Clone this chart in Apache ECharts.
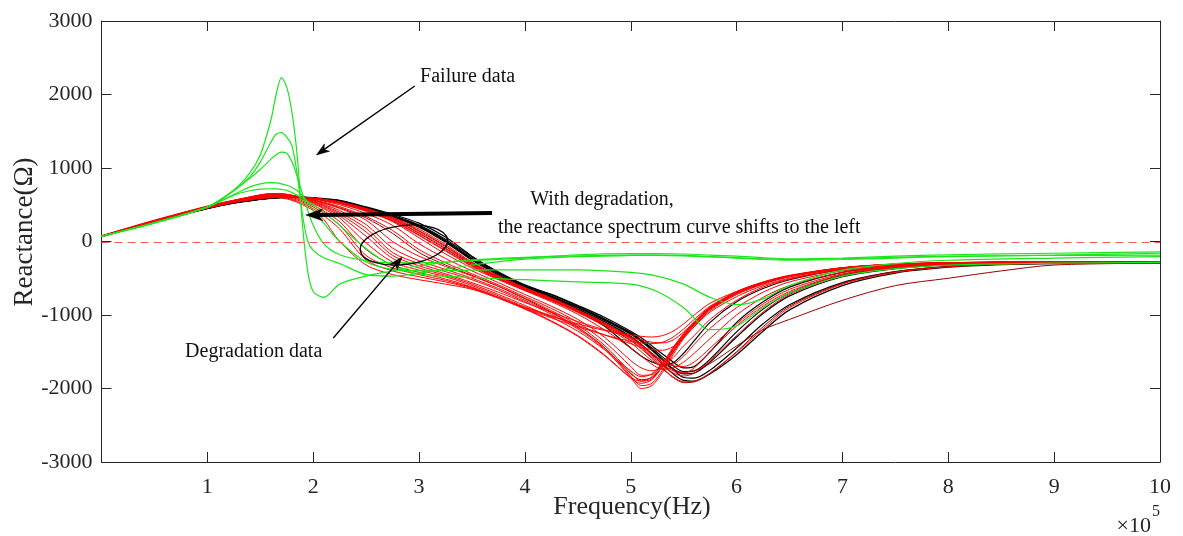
<!DOCTYPE html>
<html>
<head>
<meta charset="utf-8">
<script src="https://cdn.jsdelivr.net/npm/echarts@6/dist/echarts.min.js"></script>
<style>
html,body{margin:0;padding:0;background:#fff;}
#c{width:1183px;height:536px;}
</style>
</head>
<body>
<div id="c"></div>
<script>
// ---------- data (x in units of 1e5 Hz, y in ohm) ----------
const FREQ = [0,0.5,1,1.25,1.5,1.6,1.7,1.8,1.9,2,2.1,2.25,2.5,2.75,3,3.25,3.5,3.75,4,4.25,4.5,4.75,5,5.1,5.2,5.3,5.4,5.5,5.6,5.75,6,6.25,6.5,7,7.5,8,8.5,9,10];
const FREQ_G = [0,0.5,1,1.25,1.4,1.5,1.6,1.65,1.7,1.75,1.8,1.85,1.9,1.95,2,2.1,2.25,2.5,2.75,3,3.5,4,4.5,5,5.25,5.5,5.75,6,6.25,6.5,7,7.5,8,9,10];

// healthy (black)
const B1 = [70,275,455,530,580,595,603,607,605,598,585,560,470,370,250,60,-200,-420,-600,-720,-870,-1030,-1220,-1310,-1420,-1530,-1640,-1720,-1700,-1500,-1100,-820,-620,-420,-340,-300,-285,-280,-275];
const B2 = [65,268,448,522,572,588,597,600,597,588,572,545,455,345,205,5,-240,-440,-610,-750,-900,-1070,-1260,-1360,-1480,-1610,-1730,-1800,-1790,-1640,-1300,-980,-740,-480,-370,-320,-300,-290,-285];
const B3 = [72,272,452,527,577,592,600,603,600,590,575,548,458,348,212,10,-232,-432,-602,-742,-895,-1060,-1250,-1350,-1470,-1600,-1740,-1850,-1860,-1750,-1450,-1120,-860,-560,-410,-340,-310,-295,-285];
const B4 = [70,270,450,526,576,591,599,602,599,589,573,546,456,346,210,8,-235,-435,-605,-750,-930,-1150,-1450,-1560,-1640,-1680,-1650,-1520,-1350,-1100,-820,-640,-520,-380,-320,-290,-280,-275,-272];
const B5 = [68,270,450,525,575,590,598,601,598,588,570,540,448,338,195,-10,-255,-455,-625,-765,-920,-1090,-1290,-1400,-1530,-1670,-1800,-1890,-1900,-1800,-1540,-1220,-930,-600,-430,-350,-315,-300,-290];
const B6 = [70,273,453,528,578,593,601,604,601,592,578,552,462,355,225,30,-210,-415,-590,-725,-880,-1050,-1240,-1340,-1450,-1570,-1690,-1770,-1760,-1600,-1230,-920,-700,-460,-360,-315,-295,-288,-282];

// degradation (red)
const R1 = [70,272,458,535,590,602,608,608,602,590,572,540,450,330,170,-40,-280,-470,-630,-770,-930,-1110,-1320,-1430,-1560,-1690,-1790,-1830,-1790,-1620,-1280,-960,-720,-470,-360,-310,-292,-285,-280];
const R2 = [72,276,462,540,598,612,616,612,600,582,558,515,410,270,50,-170,-360,-520,-670,-820,-990,-1200,-1450,-1560,-1670,-1740,-1720,-1640,-1520,-1320,-1000,-760,-600,-420,-335,-300,-287,-281,-278];
const R3 = [74,280,468,548,608,622,625,618,602,580,550,500,380,220,-30,-230,-400,-560,-720,-880,-1060,-1300,-1620,-1720,-1760,-1700,-1580,-1420,-1280,-1060,-800,-620,-510,-380,-320,-292,-283,-279,-276];
const R4 = [76,284,474,555,618,632,633,622,600,572,535,475,340,150,-110,-290,-440,-590,-750,-910,-1100,-1360,-1700,-1820,-1810,-1660,-1440,-1250,-1090,-890,-680,-550,-460,-355,-305,-288,-280,-276,-274];
const R5 = [78,290,482,562,628,642,640,625,598,565,520,450,290,0,-200,-340,-470,-610,-770,-940,-1140,-1410,-1780,-1900,-1870,-1700,-1470,-1270,-1110,-900,-690,-555,-465,-358,-308,-290,-282,-278,-276];
const R6 = [75,286,478,560,632,648,646,628,596,555,505,420,230,-90,-260,-380,-500,-640,-800,-970,-1170,-1440,-1830,-1960,-1930,-1750,-1510,-1300,-1130,-920,-700,-560,-470,-360,-310,-292,-284,-280,-278];
const R7 = [73,282,475,558,635,652,650,630,592,545,490,395,180,-150,-300,-410,-520,-660,-820,-990,-1190,-1460,-1850,-2000,-1960,-1780,-1540,-1320,-1150,-940,-720,-575,-480,-365,-312,-293,-285,-281,-279];
const R8 = [72,280,472,555,630,648,648,628,588,538,478,375,130,-190,-330,-440,-560,-690,-830,-960,-1090,-1200,-1300,-1340,-1370,-1380,-1340,-1230,-1100,-920,-720,-580,-480,-365,-312,-292,-284,-280,-278];
const R9 = [70,276,468,552,628,646,645,622,580,528,462,350,70,-230,-360,-460,-580,-720,-870,-1030,-1220,-1470,-1760,-1840,-1800,-1650,-1450,-1260,-1100,-900,-700,-560,-470,-360,-310,-292,-284,-280,-278];
const R10 = [68,272,464,548,622,640,638,614,570,515,445,320,-20,-280,-390,-480,-600,-740,-890,-1010,-1140,-1270,-1390,-1440,-1470,-1480,-1430,-1310,-1160,-960,-750,-600,-500,-375,-318,-296,-286,-281,-279];
const R11 = [70,274,462,545,615,632,628,600,552,492,415,270,-110,-320,-420,-510,-620,-760,-910,-1080,-1280,-1540,-1860,-1930,-1880,-1700,-1490,-1290,-1120,-910,-700,-560,-470,-360,-310,-292,-284,-280,-278];
const R12 = [66,268,458,540,608,622,615,585,535,470,385,225,-190,-360,-450,-530,-630,-760,-900,-1020,-1120,-1210,-1270,-1290,-1300,-1280,-1220,-1120,-1000,-840,-680,-560,-470,-362,-312,-293,-284,-280,-278];
const R13 = [68,270,460,542,605,615,605,572,518,445,350,170,-250,-400,-480,-550,-640,-770,-920,-1090,-1290,-1550,-1850,-1900,-1840,-1670,-1470,-1280,-1120,-910,-700,-560,-470,-360,-310,-292,-284,-280,-278];
const R14 = [65,265,455,538,598,605,595,560,500,420,300,0,-320,-450,-520,-580,-650,-770,-910,-1040,-1160,-1270,-1360,-1380,-1390,-1370,-1300,-1190,-1060,-880,-700,-570,-475,-365,-315,-294,-285,-281,-279];
const R15 = [71,274,460,538,594,607,612,610,602,588,568,532,435,305,120,-90,-310,-490,-650,-790,-950,-1130,-1340,-1450,-1580,-1720,-1840,-1910,-1900,-1790,-1510,-1190,-900,-580,-420,-345,-310,-294,-286];
const R16 = [73,278,465,543,600,614,618,614,603,586,562,522,420,285,90,-120,-330,-500,-655,-795,-950,-1120,-1310,-1410,-1520,-1620,-1690,-1700,-1640,-1450,-1120,-850,-650,-440,-345,-305,-288,-282,-278];
const R17 = [71,273,459,536,592,604,610,609,603,590,571,538,445,320,150,-60,-290,-475,-635,-775,-935,-1115,-1320,-1420,-1540,-1660,-1760,-1790,-1720,-1500,-1150,-880,-680,-450,-350,-305,-290,-283,-279];
const R18 = [72,276,463,541,598,611,615,611,601,585,562,524,420,280,80,-130,-340,-510,-660,-805,-965,-1150,-1380,-1500,-1620,-1690,-1670,-1560,-1400,-1180,-900,-690,-550,-400,-330,-298,-286,-281,-278];

// degradation (dark red)
const DR1 = [70,275,465,548,615,630,632,620,595,565,525,460,320,110,-150,-320,-460,-610,-780,-960,-1170,-1440,-1800,-1880,-1850,-1700,-1500,-1300,-1130,-920,-700,-560,-468,-358,-308,-290,-282,-278,-276];
const DR2 = [70,272,455,532,585,598,604,604,598,586,566,530,432,300,110,-100,-320,-500,-660,-800,-960,-1140,-1350,-1460,-1590,-1730,-1850,-1920,-1910,-1790,-1500,-1160,-880,-570,-410,-340,-308,-294,-286];
const DR3 = [70,270,452,528,578,592,600,602,598,588,570,538,445,320,140,-70,-300,-480,-640,-780,-940,-1110,-1300,-1400,-1520,-1640,-1740,-1780,-1760,-1660,-1420,-1200,-1060,-800,-600,-500,-400,-320,-295];

// failure (green)
const G1 = [70,250,470,700,930,1180,1650,2000,2230,2100,1750,1150,200,-420,-680,-760,-580,-470,-400,-330,-250,-215,-195,-185,-185,-190,-205,-220,-235,-245,-235,-215,-200,-190,-185];
const G2 = [70,255,470,690,880,1080,1350,1460,1480,1420,1300,900,350,0,-120,-220,-300,-450,-470,-430,-320,-240,-205,-190,-188,-195,-210,-225,-245,-255,-245,-225,-205,-185,-160];
const G3 = [70,255,470,690,860,980,1120,1180,1215,1200,1080,880,640,420,220,-30,-180,-260,-290,-290,-260,-225,-180,-165,-165,-170,-185,-200,-220,-235,-225,-200,-180,-160,-140];
const G4 = [70,258,472,640,740,785,800,797,785,765,735,690,620,530,420,250,0,-280,-380,-400,-390,-385,-385,-420,-470,-580,-760,-860,-780,-600,-390,-300,-255,-225,-205];
const G5 = [70,255,465,630,690,712,718,715,708,695,665,630,590,545,500,400,220,-100,-330,-440,-490,-520,-550,-580,-680,-900,-1200,-1150,-900,-700,-470,-370,-320,-295,-285];

const BLACK_SET = [B1,B2,B3,B4,B5,B6];
const RED_SET = [R1,R2,R3,R4,R5,R6,R7,R8,R9,R10,R11,R12,R13,R14,R15,R16,R17,R18];
const DARK_SET = [DR1,DR2,DR3];
const GREEN_SET = [G1,G2,G3,G4,G5];

const X_RANGE = [0, 10];
const Y_RANGE = [-3000, 3000];
const ZERO_LEVEL = 0;

// ---------- chart ----------
const AX = '#262626';
const FONT = 'Liberation Serif';
const chart = echarts.init(document.getElementById('c'), null, {renderer:'canvas'});

function mk(xs, ys, color, width, z) {
  return {
    type:'line', data: xs.map((x,i)=>[x, ys[i]]), showSymbol:false, symbol:'none',
    smooth:0.3, lineStyle:{color:color, width:width}, itemStyle:{color:color}, z:z, silent:true, animation:false
  };
}
const series = [];
BLACK_SET.forEach(s => series.push(mk(FREQ, s, '#000000', 1.2, 2)));
DARK_SET.forEach(s => series.push(mk(FREQ, s, '#9c0000', 1, 3)));
RED_SET.forEach(s => series.push(mk(FREQ, s, '#ff0000', 1, 4)));
GREEN_SET.forEach(s => series.push(mk(FREQ_G, s, '#19e619', 1.2, 5)));

function xAx(pos, labels) {
  return {
    type:'value', min:X_RANGE[0], max:X_RANGE[1], interval:1, position:pos,
    axisLine:{show:true, onZero:false, lineStyle:{color:AX, width:1}},
    axisTick:{show:true, inside:true, length:10, lineStyle:{color:AX, width:1}},
    axisLabel:{show:labels, margin:14, fontFamily:FONT, fontSize:22, color:AX,
      formatter: v => v === 0 ? '' : String(v)},
    splitLine:{show:false}
  };
}
function yAx(pos, labels) {
  return {
    type:'value', min:Y_RANGE[0], max:Y_RANGE[1], interval:1000, position:pos,
    axisLine:{show:true, onZero:false, lineStyle:{color:AX, width:1}},
    axisTick:{show:true, inside:true, length:10, lineStyle:{color:AX, width:1}},
    axisLabel:{show:labels, margin:9, fontFamily:FONT, fontSize:22, color:AX,
      formatter: v => String(v)},
    splitLine:{show:false}
  };
}

chart.setOption({
  animation:false,
  backgroundColor:'#ffffff',
  grid:{left:101.5, right:23, top:21, bottom:74, containLabel:false},
  xAxis:[xAx('bottom', true), xAx('top', false)],
  yAxis:[yAx('left', true), yAx('right', false)],
  series:series
});

// ---------- annotations (anchored in data coordinates) ----------
const NOTE = {
  failureText:[3.01, 2238], failureTail:[2.96, 2116], failureHead:[2.03, 1177],
  shiftTail:[3.69, 388], shiftHead:[1.93, 360],
  shiftText1:[4.05, 565], shiftText2:[3.745, 184],
  ellipse:[2.857, -48],
  degText:[0.79, -1503], degTail:[2.19, -1313], degHead:[2.84, -211]
};
const P = k => chart.convertToPixel({gridIndex:0}, NOTE[k]);

function arrow(t, h, lw, hl, hw) {
  const dx = h[0]-t[0], dy = h[1]-t[1], L = Math.hypot(dx,dy);
  const ux = dx/L, uy = dy/L, nx = -uy, ny = ux;
  const bx = h[0]-ux*hl, by = h[1]-uy*hl;
  const notch = [h[0]-ux*hl*0.72, h[1]-uy*hl*0.72];
  return [
    {type:'line', shape:{x1:t[0], y1:t[1], x2:notch[0]+ux*1, y2:notch[1]+uy*1},
      style:{stroke:'#000', lineWidth:lw}, z:100},
    {type:'polygon', shape:{points:[h, [bx+nx*hw/2, by+ny*hw/2], notch, [bx-nx*hw/2, by-ny*hw/2]]},
      style:{fill:'#000', stroke:'#000', lineWidth:0.5}, z:100}
  ];
}
function txt(p, s, size, align) {
  return {type:'text', x:p[0], y:p[1], z:100,
    style:{text:s, fontFamily:FONT, fontSize:size, fill:'#111', align:align||'left', verticalAlign:'middle'}};
}

const e = P('ellipse');
const z0a = chart.convertToPixel({gridIndex:0}, [X_RANGE[0], ZERO_LEVEL]);
const z0b = chart.convertToPixel({gridIndex:0}, [X_RANGE[1], ZERO_LEVEL]);
const g = [];
// dashed zero reference line
g.push({type:'line', z:90, silent:true,
  shape:{x1:z0a[0], y1:Math.round(z0a[1])+0.5, x2:z0b[0], y2:Math.round(z0b[1])+0.5},
  style:{stroke:'#f25a5a', lineWidth:1, lineDash:[8,5]}});
g.push(txt(P('failureText'), 'Failure data', 20));
g.push(...arrow(P('failureTail'), P('failureHead'), 1.4, 13, 9));
g.push(...arrow(P('shiftTail'), P('shiftHead'), 4, 17, 12));
g.push(txt(P('shiftText1'), 'With degradation,', 20));
g.push(txt(P('shiftText2'), 'the reactance spectrum curve shifts to the left', 20));
g.push({type:'ellipse', x:e[0], y:e[1], rotation:0.12, z:100,
  shape:{cx:0, cy:0, rx:44, ry:19.5}, style:{fill:'none', stroke:'#000', lineWidth:1.4}});
g.push(txt(P('degText'), 'Degradation data', 20));
g.push(...arrow(P('degTail'), P('degHead'), 1.4, 13, 9));

// axis titles
g.push({type:'text', x:632, y:507, z:100,
  style:{text:'Frequency(Hz)', fontFamily:FONT, fontSize:26, fill:AX, align:'center', verticalAlign:'middle'}});
g.push({type:'text', x:25, y:232, rotation:Math.PI/2, z:100,
  style:{text:'Reactance(Ω)', fontFamily:FONT, fontSize:27, fill:AX, align:'center', verticalAlign:'middle'}});
g.push({type:'text', x:1151, y:526, z:100,
  style:{text:'×10', fontFamily:FONT, fontSize:22, fill:AX, align:'right', verticalAlign:'middle'}});
g.push({type:'text', x:1152, y:512, z:100,
  style:{text:'5', fontFamily:FONT, fontSize:16, fill:AX, align:'left', verticalAlign:'middle'}});

chart.setOption({graphic:g});
</script>
</body>
</html>
